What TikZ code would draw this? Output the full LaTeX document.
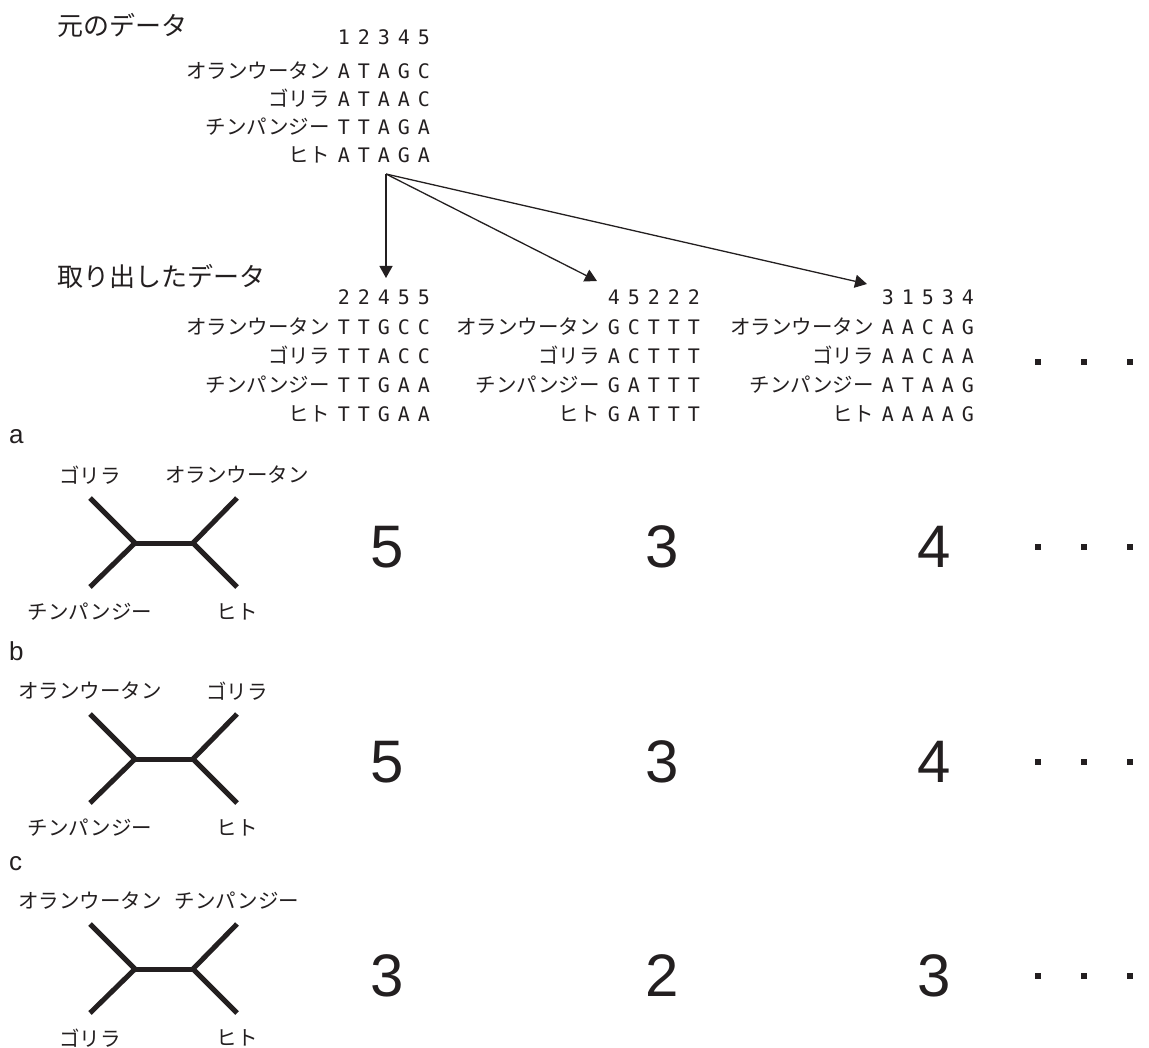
\documentclass[tikz,border=0pt]{standalone}
\usepackage{fontspec}
\usetikzlibrary{arrows.meta}
\newfontfamily\jp{Noto Sans CJK JP}
\newfontfamily\mono{DejaVu Sans Mono}
\newfontfamily\lat{Liberation Sans}
\definecolor{ink}{RGB}{35,31,32}
\newcommand\sqc[1]{\makebox[10pt]{#1}}
\newcommand\sq[5]{{\mono\fontsize{20}{24}\selectfont\sqc{#1}\hspace{10pt}\sqc{#2}\hspace{10pt}\sqc{#3}\hspace{10pt}\sqc{#4}\hspace{10pt}\sqc{#5}}}
\begin{document}
\begin{tikzpicture}[x=1pt,y=-1pt,
  row/.style={anchor=base east,inner sep=0pt,font=\jp\fontsize{20.5}{24}\selectfont,text=ink},
  title/.style={anchor=west,inner sep=0pt,font=\jp\fontsize{26}{30}\selectfont,text=ink},
  panel/.style={anchor=base west,inner sep=0pt,font=\lat\fontsize{26}{30}\selectfont,text=ink},
  big/.style={inner sep=0pt,font=\lat\fontsize{60}{72}\selectfont,text=ink},
  lbl/.style={inner sep=0pt,font=\jp\fontsize{20.5}{24}\selectfont,text=ink},
  dot/.style={fill=ink,inner sep=0pt,minimum size=6pt,draw=none,rectangle},
  arr/.style={draw=ink,line width=1.3pt,-{Triangle[width=13pt,length=12pt]}},
  branch/.style={draw=ink,line width=5pt,line cap=butt,line join=miter}]
\useasboundingbox (0,0) rectangle (1149,1048);
% titles
\node[title] (t-orig) at (57,25) {元のデータ};
\node[title] (t-samp) at (57,276) {取り出したデータ};
% original data
\node[row] (h0) at (429,45) {\sq 12345};
\node[row] (o0) at (429,79) {オランウータン\hspace{9pt}\sq ATAGC};
\node[row] (g0) at (429,107) {ゴリラ\hspace{9pt}\sq ATAAC};
\node[row] (c0) at (429,135) {チンパンジー\hspace{9pt}\sq TTAGA};
\node[row] (u0) at (429,163) {ヒト\hspace{9pt}\sq ATAGA};
% sampled data
\node[row] (h1) at (429,305) {\sq 22455};
\node[row] (o1) at (429,335) {オランウータン\hspace{9pt}\sq TTGCC};
\node[row] (g1) at (429,364) {ゴリラ\hspace{9pt}\sq TTACC};
\node[row] (c1) at (429,393) {チンパンジー\hspace{9pt}\sq TTGAA};
\node[row] (u1) at (429,422) {ヒト\hspace{9pt}\sq TTGAA};
\node[row] (h2) at (699,305) {\sq 45222};
\node[row] (o2) at (699,335) {オランウータン\hspace{9pt}\sq GCTTT};
\node[row] (g2) at (699,364) {ゴリラ\hspace{9pt}\sq ACTTT};
\node[row] (c2) at (699,393) {チンパンジー\hspace{9pt}\sq GATTT};
\node[row] (u2) at (699,422) {ヒト\hspace{9pt}\sq GATTT};
\node[row] (h3) at (973,305) {\sq 31534};
\node[row] (o3) at (973,335) {オランウータン\hspace{9pt}\sq AACAG};
\node[row] (g3) at (973,364) {ゴリラ\hspace{9pt}\sq AACAA};
\node[row] (c3) at (973,393) {チンパンジー\hspace{9pt}\sq ATAAG};
\node[row] (u3) at (973,422) {ヒト\hspace{9pt}\sq AAAAG};
% arrows
\coordinate (src) at (386,174);
\coordinate (tip1) at (386,278);
\coordinate (tip2) at (597,281);
\coordinate (tip3) at (867,284);
\draw[arr] (src) -- (tip1);
\draw[arr] (src) -- (tip2);
\draw[arr] (src) -- (tip3);
% dots
\foreach \r/\yy in {d/362,a/547,b/762,c/976}{
  \node[dot] (\r-dot1) at (1038,\yy) {};
  \node[dot] (\r-dot2) at (1084,\yy) {};
  \node[dot] (\r-dot3) at (1130,\yy) {};
}
% panel letters
\node[panel] (pa) at (9,444) {a};
\node[panel] (pb) at (9,660) {b};
\node[panel] (pc) at (9,870) {c};
% trees
\foreach \k/\Y/\ul/\ur/\ll/\lr in {a/543/ゴリラ/オランウータン/チンパンジー/ヒト,
                                   b/759/オランウータン/ゴリラ/チンパンジー/ヒト,
                                   c/969/オランウータン/チンパンジー/ゴリラ/ヒト}{
  \coordinate (\k-L) at (135,\Y);
  \coordinate (\k-R) at (193,\Y);
  \coordinate (\k-UL) at (90,\Y-45);
  \coordinate (\k-LL) at (90,\Y+44);
  \coordinate (\k-UR) at (237,\Y-45);
  \coordinate (\k-LR) at (237,\Y+44);
  \draw[branch] (\k-UL) -- (\k-L) -- (\k-LL);
  \draw[branch] (\k-UR) -- (\k-R) -- (\k-LR);
  \draw[branch] (\k-L) -- (\k-R);
  \node[lbl] (\k-ul) at (90,\Y-68) {\ul};
  \node[lbl] (\k-ur) at (237,\Y-68) {\ur};
  \node[lbl] (\k-ll) at (90,\Y+69) {\ll};
  \node[lbl] (\k-lr) at (237,\Y+69) {\lr};
}
% scores
\node[big] (a-s1) at (387,547) {5};
\node[big] (a-s2) at (662,547) {3};
\node[big] (a-s3) at (934,547) {4};
\node[big] (b-s1) at (387,762) {5};
\node[big] (b-s2) at (662,762) {3};
\node[big] (b-s3) at (934,762) {4};
\node[big] (c-s1) at (387,976) {3};
\node[big] (c-s2) at (662,976) {2};
\node[big] (c-s3) at (934,976) {3};
\end{tikzpicture}
\end{document}
